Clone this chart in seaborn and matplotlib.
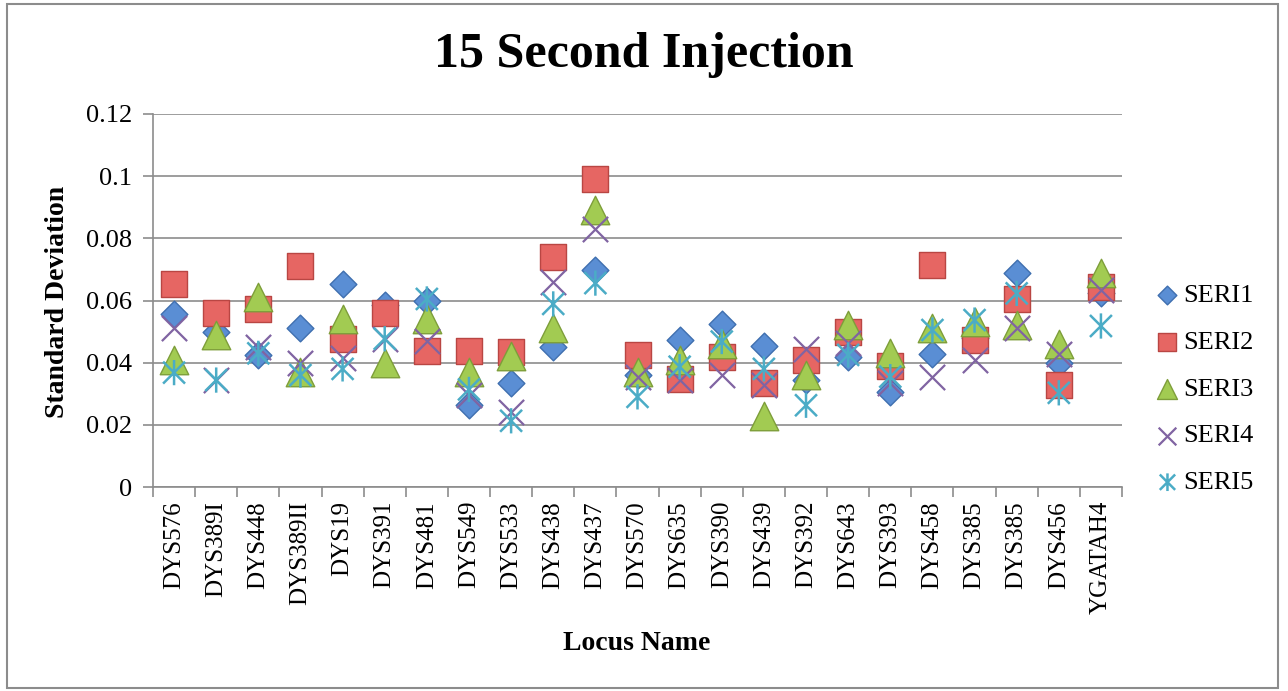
import numpy as np
import matplotlib
matplotlib.use("Agg")
import matplotlib.pyplot as plt
import seaborn as sns
from matplotlib.path import Path
from matplotlib.patches import Rectangle

loci = ["DYS576", "DYS389I", "DYS448", "DYS389II", "DYS19", "DYS391", "DYS481",
        "DYS549", "DYS533", "DYS438", "DYS437", "DYS570", "DYS635", "DYS390",
        "DYS439", "DYS392", "DYS643", "DYS393", "DYS458", "DYS385", "DYS385",
        "DYS456", "YGATAH4"]

seri1 = [0.0555, 0.050, 0.0425, 0.051, 0.0653, 0.0586, 0.060, 0.0263, 0.0333, 0.0452,
         0.0699, 0.036, 0.0473, 0.0525, 0.0454, 0.0344, 0.0417, 0.0306, 0.0428, 0.048,
         0.069, 0.0398, 0.0624]
seri2 = [0.0653, 0.056, 0.0573, 0.071, 0.0475, 0.0559, 0.0437, 0.0437, 0.0433, 0.0739,
         0.0991, 0.0425, 0.0349, 0.0417, 0.0335, 0.0409, 0.050, 0.039, 0.0715, 0.0473,
         0.0604, 0.0328, 0.0642]
seri3 = [0.041, 0.049, 0.061, 0.037, 0.054, 0.040, 0.054, 0.037, 0.042, 0.051,
         0.089, 0.037, 0.041, 0.046, 0.023, 0.036, 0.052, 0.043, 0.051, 0.053,
         0.052, 0.046, 0.069]
seri4 = [0.051, 0.0344, 0.045, 0.0398, 0.0414, 0.0477, 0.047, 0.0296, 0.0242, 0.0658,
         0.083, 0.0355, 0.0344, 0.036, 0.0328, 0.0443, 0.0464, 0.0333, 0.0355, 0.0409,
         0.051, 0.0428, 0.0634]
seri5 = [0.0368, 0.0344, 0.043, 0.036, 0.038, 0.0477, 0.0605, 0.0314, 0.0213, 0.0589,
         0.0656, 0.029, 0.0387, 0.0468, 0.038, 0.0263, 0.0425, 0.0355, 0.0505, 0.0537,
         0.0623, 0.0303, 0.0518]

series_names = ["SERI1", "SERI2", "SERI3", "SERI4", "SERI5"]
y_ticks = [0, 0.02, 0.04, 0.06, 0.08, 0.1, 0.12]
y_tick_labels = ["0", "0.02", "0.04", "0.06", "0.08", "0.1", "0.12"]

# asterisk marker like Excel's: an x with a vertical bar
asterisk = Path([(-1, -1), (1, 1), (-1, 1), (1, -1), (0, -1.15), (0, 1.15)],
                [Path.MOVETO, Path.LINETO, Path.MOVETO, Path.LINETO, Path.MOVETO, Path.LINETO])

styles = [
    dict(marker="D", s=185, facecolor="#5A8ED4", edgecolor="#3F6FAF", linewidth=1.0),
    dict(marker="s", s=335, facecolor="#E66663", edgecolor="#B94643", linewidth=1.0),
    dict(marker="^", s=420, facecolor="#A2CB52", edgecolor="#7E9E3A", linewidth=1.0),
    dict(marker="x", s=330, color="#8064A2", linewidth=1.6),
    dict(marker=asterisk, s=330, facecolor="none", edgecolor="#4BACC6", linewidth=1.8),
]

sns.set_style("white")
plt.rcParams["font.family"] = ["Liberation Serif", "DejaVu Serif"]
plt.rcParams["text.color"] = "black"
plt.rcParams["xtick.labelcolor"] = "black"
plt.rcParams["ytick.labelcolor"] = "black"

fig = plt.figure(figsize=(12.88, 6.91), dpi=100)
ax = fig.add_axes([153 / 1288, 1 - 487 / 691, (1122 - 153) / 1288, (487 - 114) / 691])

xpos = np.arange(len(loci))
for name, vals, st in zip(series_names, [seri1, seri2, seri3, seri4, seri5], styles):
    sns.scatterplot(x=xpos, y=vals, ax=ax, label=name, zorder=3, **st)

ax.set_xlim(-0.5, len(loci) - 0.5)
ax.set_ylim(0, 0.12)
ax.set_yticks(y_ticks)
ax.set_yticklabels(y_tick_labels, fontsize=19)
ax.yaxis.grid(True, color="#8C8C8C", linewidth=1.2)
ax.set_axisbelow(True)

# category boundary ticks, labels at centres
ax.set_xticks(np.arange(len(loci) + 1) - 0.5)
ax.set_xticklabels([])
ax.set_xticks(xpos, minor=True)
ax.set_xticklabels(loci, minor=True, rotation=90, fontsize=18)
ax.tick_params(axis="x", which="major", direction="out", length=7, width=1.2, color="#8C8C8C", bottom=True)
ax.tick_params(axis="x", which="minor", length=0, pad=10)
ax.tick_params(axis="y", direction="out", length=7, width=1.2, color="#8C8C8C", left=True, pad=8)

for side in ["top", "right"]:
    ax.spines[side].set_visible(False)
for side in ["left", "bottom"]:
    ax.spines[side].set_color("#8C8C8C")
    ax.spines[side].set_linewidth(1.2)

ax.set_xlabel("")
ax.set_ylabel("")
fig.text(58 / 1288, 1 - 302 / 691, "Standard Deviation", rotation=90, fontsize=20,
         fontweight="bold", ha="center", va="center")
fig.text(637 / 1288, 1 - 643 / 691, "Locus Name", fontsize=20, fontweight="bold",
         ha="center", va="center")
fig.text(644 / 1288, 1 - 55 / 691, "15 Second Injection", fontsize=36, fontweight="bold",
         ha="center", va="center")

ax.legend(loc="center left", bbox_to_anchor=(1149 / 1288, 1 - 389 / 691),
          bbox_transform=fig.transFigure, frameon=False, fontsize=19,
          markerscale=0.7, handlelength=0.6, handletextpad=0.3, labelspacing=0.88,
          borderaxespad=0)

fig.patches.append(Rectangle((7 / 1288, 3 / 691), 1271 / 1288, 684 / 691, transform=fig.transFigure,
                             fill=False, edgecolor="#8C8C8C", linewidth=1.5))

fig.savefig("out.png", dpi=100)
